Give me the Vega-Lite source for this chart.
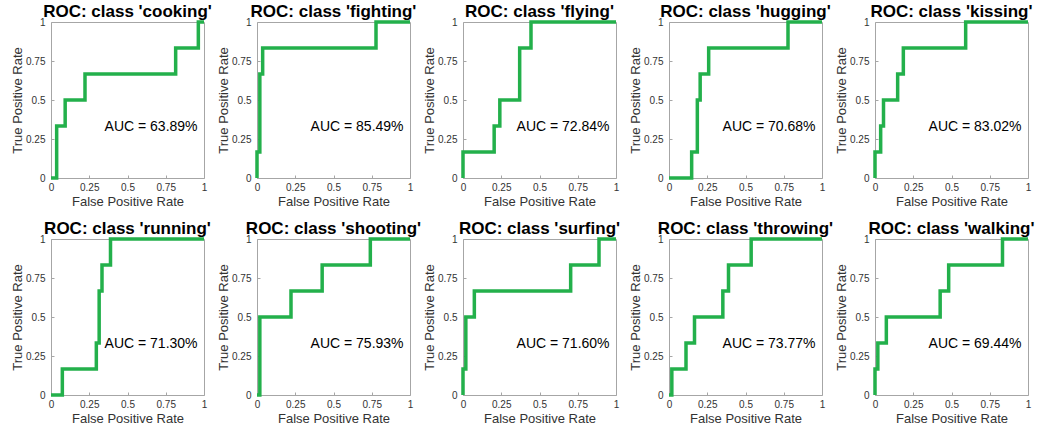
{
  "$schema": "https://vega.github.io/schema/vega-lite/v6.json",
  "padding": {"left": 11, "top": 2, "right": 5, "bottom": 5},
  "background": "white",
  "bounds": "flush",
  "spacing": {"column": 53, "row": 61},
  "data": {"values": [
    {"cls": "cooking", "i": 0, "fpr": 0, "tpr": 0},
    {"cls": "cooking", "i": 1, "fpr": 0.0370, "tpr": 0},
    {"cls": "cooking", "i": 2, "fpr": 0.0370, "tpr": 0.3333},
    {"cls": "cooking", "i": 3, "fpr": 0.0926, "tpr": 0.3333},
    {"cls": "cooking", "i": 4, "fpr": 0.0926, "tpr": 0.5},
    {"cls": "cooking", "i": 5, "fpr": 0.2222, "tpr": 0.5},
    {"cls": "cooking", "i": 6, "fpr": 0.2222, "tpr": 0.6667},
    {"cls": "cooking", "i": 7, "fpr": 0.8148, "tpr": 0.6667},
    {"cls": "cooking", "i": 8, "fpr": 0.8148, "tpr": 0.8333},
    {"cls": "cooking", "i": 9, "fpr": 0.9630, "tpr": 0.8333},
    {"cls": "cooking", "i": 10, "fpr": 0.9630, "tpr": 1},
    {"cls": "cooking", "i": 11, "fpr": 1, "tpr": 1},

    {"cls": "fighting", "i": 0, "fpr": 0, "tpr": 0},
    {"cls": "fighting", "i": 1, "fpr": 0, "tpr": 0.1667},
    {"cls": "fighting", "i": 2, "fpr": 0.0185, "tpr": 0.1667},
    {"cls": "fighting", "i": 3, "fpr": 0.0185, "tpr": 0.6667},
    {"cls": "fighting", "i": 4, "fpr": 0.0370, "tpr": 0.6667},
    {"cls": "fighting", "i": 5, "fpr": 0.0370, "tpr": 0.8333},
    {"cls": "fighting", "i": 6, "fpr": 0.7778, "tpr": 0.8333},
    {"cls": "fighting", "i": 7, "fpr": 0.7778, "tpr": 1},
    {"cls": "fighting", "i": 8, "fpr": 1, "tpr": 1},

    {"cls": "flying", "i": 0, "fpr": 0, "tpr": 0},
    {"cls": "flying", "i": 1, "fpr": 0, "tpr": 0.1667},
    {"cls": "flying", "i": 2, "fpr": 0.2037, "tpr": 0.1667},
    {"cls": "flying", "i": 3, "fpr": 0.2037, "tpr": 0.3333},
    {"cls": "flying", "i": 4, "fpr": 0.2407, "tpr": 0.3333},
    {"cls": "flying", "i": 5, "fpr": 0.2407, "tpr": 0.5},
    {"cls": "flying", "i": 6, "fpr": 0.3704, "tpr": 0.5},
    {"cls": "flying", "i": 7, "fpr": 0.3704, "tpr": 0.8333},
    {"cls": "flying", "i": 8, "fpr": 0.4444, "tpr": 0.8333},
    {"cls": "flying", "i": 9, "fpr": 0.4444, "tpr": 1},
    {"cls": "flying", "i": 10, "fpr": 1, "tpr": 1},

    {"cls": "hugging", "i": 0, "fpr": 0, "tpr": 0},
    {"cls": "hugging", "i": 1, "fpr": 0.1481, "tpr": 0},
    {"cls": "hugging", "i": 2, "fpr": 0.1481, "tpr": 0.1667},
    {"cls": "hugging", "i": 3, "fpr": 0.1852, "tpr": 0.1667},
    {"cls": "hugging", "i": 4, "fpr": 0.1852, "tpr": 0.5},
    {"cls": "hugging", "i": 5, "fpr": 0.2037, "tpr": 0.5},
    {"cls": "hugging", "i": 6, "fpr": 0.2037, "tpr": 0.6667},
    {"cls": "hugging", "i": 7, "fpr": 0.2593, "tpr": 0.6667},
    {"cls": "hugging", "i": 8, "fpr": 0.2593, "tpr": 0.8333},
    {"cls": "hugging", "i": 9, "fpr": 0.7778, "tpr": 0.8333},
    {"cls": "hugging", "i": 10, "fpr": 0.7778, "tpr": 1},
    {"cls": "hugging", "i": 11, "fpr": 1, "tpr": 1},

    {"cls": "kissing", "i": 0, "fpr": 0, "tpr": 0},
    {"cls": "kissing", "i": 1, "fpr": 0, "tpr": 0.1667},
    {"cls": "kissing", "i": 2, "fpr": 0.0370, "tpr": 0.1667},
    {"cls": "kissing", "i": 3, "fpr": 0.0370, "tpr": 0.3333},
    {"cls": "kissing", "i": 4, "fpr": 0.0556, "tpr": 0.3333},
    {"cls": "kissing", "i": 5, "fpr": 0.0556, "tpr": 0.5},
    {"cls": "kissing", "i": 6, "fpr": 0.1481, "tpr": 0.5},
    {"cls": "kissing", "i": 7, "fpr": 0.1481, "tpr": 0.6667},
    {"cls": "kissing", "i": 8, "fpr": 0.1852, "tpr": 0.6667},
    {"cls": "kissing", "i": 9, "fpr": 0.1852, "tpr": 0.8333},
    {"cls": "kissing", "i": 10, "fpr": 0.5926, "tpr": 0.8333},
    {"cls": "kissing", "i": 11, "fpr": 0.5926, "tpr": 1},
    {"cls": "kissing", "i": 12, "fpr": 1, "tpr": 1},

    {"cls": "running", "i": 0, "fpr": 0, "tpr": 0},
    {"cls": "running", "i": 1, "fpr": 0.0741, "tpr": 0},
    {"cls": "running", "i": 2, "fpr": 0.0741, "tpr": 0.1667},
    {"cls": "running", "i": 3, "fpr": 0.2963, "tpr": 0.1667},
    {"cls": "running", "i": 4, "fpr": 0.2963, "tpr": 0.3333},
    {"cls": "running", "i": 5, "fpr": 0.3148, "tpr": 0.3333},
    {"cls": "running", "i": 6, "fpr": 0.3148, "tpr": 0.6667},
    {"cls": "running", "i": 7, "fpr": 0.3333, "tpr": 0.6667},
    {"cls": "running", "i": 8, "fpr": 0.3333, "tpr": 0.8333},
    {"cls": "running", "i": 9, "fpr": 0.3889, "tpr": 0.8333},
    {"cls": "running", "i": 10, "fpr": 0.3889, "tpr": 1},
    {"cls": "running", "i": 11, "fpr": 1, "tpr": 1},

    {"cls": "shooting", "i": 0, "fpr": 0, "tpr": 0},
    {"cls": "shooting", "i": 1, "fpr": 0.0185, "tpr": 0},
    {"cls": "shooting", "i": 2, "fpr": 0.0185, "tpr": 0.5},
    {"cls": "shooting", "i": 3, "fpr": 0.2222, "tpr": 0.5},
    {"cls": "shooting", "i": 4, "fpr": 0.2222, "tpr": 0.6667},
    {"cls": "shooting", "i": 5, "fpr": 0.4259, "tpr": 0.6667},
    {"cls": "shooting", "i": 6, "fpr": 0.4259, "tpr": 0.8333},
    {"cls": "shooting", "i": 7, "fpr": 0.7407, "tpr": 0.8333},
    {"cls": "shooting", "i": 8, "fpr": 0.7407, "tpr": 1},
    {"cls": "shooting", "i": 9, "fpr": 1, "tpr": 1},

    {"cls": "surfing", "i": 0, "fpr": 0, "tpr": 0},
    {"cls": "surfing", "i": 1, "fpr": 0, "tpr": 0.1667},
    {"cls": "surfing", "i": 2, "fpr": 0.0185, "tpr": 0.1667},
    {"cls": "surfing", "i": 3, "fpr": 0.0185, "tpr": 0.5},
    {"cls": "surfing", "i": 4, "fpr": 0.0741, "tpr": 0.5},
    {"cls": "surfing", "i": 5, "fpr": 0.0741, "tpr": 0.6667},
    {"cls": "surfing", "i": 6, "fpr": 0.7037, "tpr": 0.6667},
    {"cls": "surfing", "i": 7, "fpr": 0.7037, "tpr": 0.8333},
    {"cls": "surfing", "i": 8, "fpr": 0.8889, "tpr": 0.8333},
    {"cls": "surfing", "i": 9, "fpr": 0.8889, "tpr": 1},
    {"cls": "surfing", "i": 10, "fpr": 1, "tpr": 1},

    {"cls": "throwing", "i": 0, "fpr": 0, "tpr": 0},
    {"cls": "throwing", "i": 1, "fpr": 0.0185, "tpr": 0},
    {"cls": "throwing", "i": 2, "fpr": 0.0185, "tpr": 0.1667},
    {"cls": "throwing", "i": 3, "fpr": 0.1111, "tpr": 0.1667},
    {"cls": "throwing", "i": 4, "fpr": 0.1111, "tpr": 0.3333},
    {"cls": "throwing", "i": 5, "fpr": 0.1667, "tpr": 0.3333},
    {"cls": "throwing", "i": 6, "fpr": 0.1667, "tpr": 0.5},
    {"cls": "throwing", "i": 7, "fpr": 0.3519, "tpr": 0.5},
    {"cls": "throwing", "i": 8, "fpr": 0.3519, "tpr": 0.6667},
    {"cls": "throwing", "i": 9, "fpr": 0.3889, "tpr": 0.6667},
    {"cls": "throwing", "i": 10, "fpr": 0.3889, "tpr": 0.8333},
    {"cls": "throwing", "i": 11, "fpr": 0.5370, "tpr": 0.8333},
    {"cls": "throwing", "i": 12, "fpr": 0.5370, "tpr": 1},
    {"cls": "throwing", "i": 13, "fpr": 1, "tpr": 1},

    {"cls": "walking", "i": 0, "fpr": 0, "tpr": 0},
    {"cls": "walking", "i": 1, "fpr": 0, "tpr": 0.1667},
    {"cls": "walking", "i": 2, "fpr": 0.0185, "tpr": 0.1667},
    {"cls": "walking", "i": 3, "fpr": 0.0185, "tpr": 0.3333},
    {"cls": "walking", "i": 4, "fpr": 0.0741, "tpr": 0.3333},
    {"cls": "walking", "i": 5, "fpr": 0.0741, "tpr": 0.5},
    {"cls": "walking", "i": 6, "fpr": 0.4259, "tpr": 0.5},
    {"cls": "walking", "i": 7, "fpr": 0.4259, "tpr": 0.6667},
    {"cls": "walking", "i": 8, "fpr": 0.4815, "tpr": 0.6667},
    {"cls": "walking", "i": 9, "fpr": 0.4815, "tpr": 0.8333},
    {"cls": "walking", "i": 10, "fpr": 0.8333, "tpr": 0.8333},
    {"cls": "walking", "i": 11, "fpr": 0.8333, "tpr": 1},
    {"cls": "walking", "i": 12, "fpr": 1, "tpr": 1},

    {"cls": "cooking", "auc": "AUC = 63.89%"},
    {"cls": "fighting", "auc": "AUC = 85.49%"},
    {"cls": "flying", "auc": "AUC = 72.84%"},
    {"cls": "hugging", "auc": "AUC = 70.68%"},
    {"cls": "kissing", "auc": "AUC = 83.02%"},
    {"cls": "running", "auc": "AUC = 71.30%"},
    {"cls": "shooting", "auc": "AUC = 75.93%"},
    {"cls": "surfing", "auc": "AUC = 71.60%"},
    {"cls": "throwing", "auc": "AUC = 73.77%"},
    {"cls": "walking", "auc": "AUC = 69.44%"}
  ]},
  "facet": {
    "field": "cls",
    "type": "nominal",
    "header": {
      "title": null,
      "labelExpr": "\"ROC: class '\" + datum.value + \"'\"",
      "labelFont": "Liberation Sans",
      "labelFontSize": 17,
      "labelFontWeight": "bold",
      "labelColor": "#000000",
      "labelPadding": -6
    }
  },
  "columns": 5,
  "resolve": {"axis": {"x": "independent", "y": "independent"}},
  "spec": {
    "width": 153,
    "height": 156,
    "layer": [
      {
        "transform": [{"filter": "isValid(datum.fpr)"}],
        "mark": {"type": "line", "color": "#23b04b", "strokeWidth": 3.5, "strokeJoin": "miter", "strokeCap": "butt"},
        "encoding": {
          "x": {"field": "fpr", "type": "quantitative", "scale": {"domain": [0, 1], "nice": false, "zero": false},
                "axis": {"title": "False Positive Rate", "values": [0, 0.25, 0.5, 0.75, 1], "tickCount": 10, "labelOverlap": false, "labelExpr": "toString(datum.value)"}},
          "y": {"field": "tpr", "type": "quantitative", "scale": {"domain": [0, 1], "nice": false, "zero": false},
                "axis": {"title": "True Positive Rate", "values": [0, 0.25, 0.5, 0.75, 1], "tickCount": 10, "labelOverlap": false, "labelExpr": "toString(datum.value)"}},
          "order": {"field": "i", "type": "quantitative"}
        }
      },
      {
        "transform": [{"filter": "isValid(datum.auc)"}],
        "mark": {"type": "text", "align": "left", "baseline": "middle", "font": "Liberation Sans", "fontSize": 14, "color": "#000000"},
        "encoding": {
          "x": {"datum": 0.35, "type": "quantitative"},
          "y": {"datum": 0.33, "type": "quantitative"},
          "text": {"field": "auc", "type": "nominal"}
        }
      }
    ]
  },
  "config": {
    "font": "Liberation Sans",
    "view": {"stroke": "#a6a6a6", "strokeWidth": 1},
    "axis": {
      "grid": false,
      "domain": false,
      "ticks": true,
      "tickColor": "#a6a6a6",
      "tickSize": -3,
      "labelOverlap": false,
      "labelFlush": false,
      "labelFont": "Liberation Sans",
      "labelFontSize": 10,
      "labelColor": "#333333",
      "titleFont": "Liberation Sans",
      "titleFontSize": 13,
      "titleFontWeight": "normal",
      "titleColor": "#333333"
    },
    "axisX": {"labelPadding": 7, "titlePadding": 3},
    "axisY": {"labelPadding": 9, "titlePadding": 1}
  }
}
